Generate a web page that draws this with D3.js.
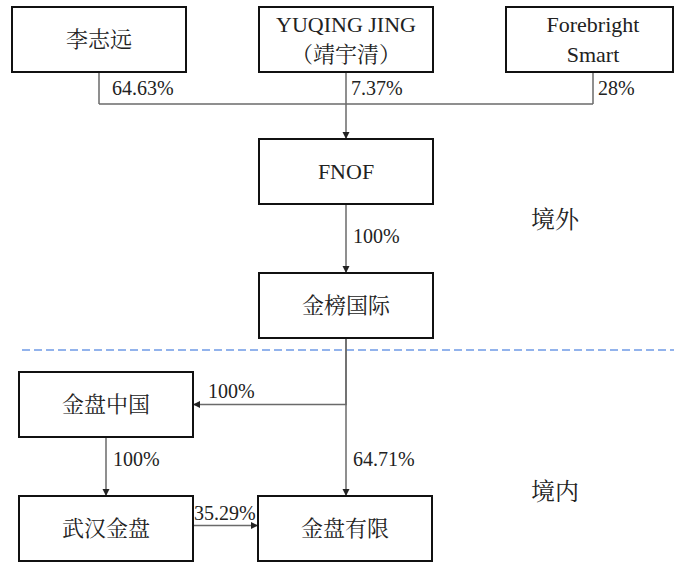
<!DOCTYPE html>
<html>
<head>
<meta charset="utf-8">
<script src="https://cdn.jsdelivr.net/npm/d3@7"></script>
<style>
  body { margin: 0; background: #fff; }
  svg { display: block; }
  svg text { font-family: "Liberation Serif", "Noto Serif CJK SC", "Noto Sans CJK SC", serif; }
</style>
</head>
<body>
<div id="chart"></div>
<script>
// entities in the ownership chart
const entities = ["李志远", "YUQING JING\n（靖宇清）", "Forebright\nSmart", "FNOF", "金榜国际", "金盘中国", "武汉金盘", "金盘有限"]

// shareholders of FNOF and their stakes
const topHolders = ["李志远", "YUQING JING\n（靖宇清）", "Forebright\nSmart"]
const topStakes = ["64.63%", "7.37%", "28%"]

// other holdings: from -> to
const linkFrom = ["FNOF", "金榜国际", "金榜国际", "金盘中国", "武汉金盘"]
const linkTo = ["金榜国际", "金盘中国", "金盘有限", "武汉金盘", "金盘有限"]
const linkStakes = ["100%", "100%", "64.71%", "100%", "35.29%"]

const regions = ["境外", "境内"]

const WIDTH = 674, HEIGHT = 565
const BOX_W = 174, BOX_H = 65

// grid layout for the boxes (left edge / top edge)
const xLeft = d3.scaleOrdinal()
    .domain(entities)
    .range([12, 259, 506, 259, 259, 19, 19, 258])
const yTop = d3.scaleOrdinal()
    .domain(entities)
    .range([7, 7, 7, 139, 273, 372, 496, 496])

const cx = d => xLeft(d) + BOX_W / 2
const cy = d => yTop(d) + BOX_H / 2

const svg = d3.select("#chart")
    .append("svg")
    .attr("width", WIDTH)
    .attr("height", HEIGHT)

svg.append("defs").append("marker")
    .attr("id", "arrow")
    .attr("viewBox", "0 0 10 10")
    .attr("refX", 10)
    .attr("refY", 5)
    .attr("markerWidth", 7)
    .attr("markerHeight", 8)
    .attr("markerUnits", "userSpaceOnUse")
    .attr("orient", "auto")
    .append("path")
    .attr("d", "M0,0 L10,5 L0,10 Z")
    .attr("fill", "#222")

const LINE = "#6a6a6a"

// dashed border between offshore and onshore
svg.append("line")
    .attr("x1", 22).attr("x2", WIDTH)
    .attr("y1", 350).attr("y2", 350)
    .attr("stroke", "#6f9be6")
    .attr("stroke-width", 1.5)
    .attr("stroke-dasharray", "8,4")

// top connectors: each holder down to a common bar, then into FNOF
const barY = 104
topHolders.forEach((h, i) => {
    svg.append("line")
        .attr("x1", cx(h)).attr("x2", cx(h))
        .attr("y1", yTop(h) + BOX_H).attr("y2", barY)
        .attr("stroke", LINE).attr("stroke-width", 1.5)
    svg.append("text")
        .attr("x", cx(h) + (i == 0 ? 13 : 5))
        .attr("y", barY - 9)
        .attr("font-size", 20)
        .attr("fill", "#222")
        .text(topStakes[i])
})
svg.append("line")
    .attr("x1", cx(topHolders[0])).attr("x2", cx(topHolders[2]))
    .attr("y1", barY).attr("y2", barY)
    .attr("stroke", LINE).attr("stroke-width", 1.5)
svg.append("line")
    .attr("x1", cx("FNOF")).attr("x2", cx("FNOF"))
    .attr("y1", barY).attr("y2", yTop("FNOF"))
    .attr("stroke", LINE).attr("stroke-width", 1.5)
    .attr("marker-end", "url(#arrow)")

// other links
const links = linkFrom.map((f, i) => ({ from: f, to: linkTo[i], stake: linkStakes[i] }))

links.forEach(l => {
    let pts, lx, ly
    if (Math.abs(xLeft(l.from) - xLeft(l.to)) < 5) {
        // straight down
        pts = [[cx(l.from), yTop(l.from) + BOX_H], [cx(l.from), yTop(l.to)]]
        lx = cx(l.from) + 7
        ly = yTop(l.to) - 30
    } else if (yTop(l.from) == yTop(l.to)) {
        // straight across
        pts = [[xLeft(l.from) + BOX_W, cy(l.to) - 3], [xLeft(l.to), cy(l.to) - 3]]
        lx = xLeft(l.from) + BOX_W + 1
        ly = cy(l.to) - 9
    } else {
        // down then left into side of box
        pts = [[cx(l.from), yTop(l.from) + BOX_H], [cx(l.from), cy(l.to)], [xLeft(l.to) + BOX_W, cy(l.to)]]
        lx = xLeft(l.to) + BOX_W + 15
        ly = cy(l.to) - 7
    }
    svg.append("path")
        .attr("d", d3.line()(pts))
        .attr("fill", "none")
        .attr("stroke", LINE).attr("stroke-width", 1.5)
        .attr("marker-end", "url(#arrow)")
    svg.append("text")
        .attr("x", lx)
        .attr("y", ly)
        .attr("font-size", 20)
        .attr("fill", "#222")
        .text(l.stake)
})

// boxes
const boxes = svg.selectAll("g.box")
    .data(entities)
    .enter().append("g")
    .attr("class", "box")

boxes.append("rect")
    .attr("x", d => xLeft(d))
    .attr("y", d => yTop(d))
    .attr("width", d => Math.min(BOX_W, WIDTH - 1 - xLeft(d)))
    .attr("height", BOX_H)
    .attr("fill", "#fff")
    .attr("stroke", "#111")
    .attr("stroke-width", 2)

boxes.each(function (d) {
    const lines = d.split("\n")
    const t = d3.select(this).append("text")
        .attr("text-anchor", "middle")
        .attr("font-size", 22)
        .attr("fill", "#222")
    lines.forEach((s, i) => {
        t.append("tspan")
            .attr("x", cx(d))
            .attr("y", cy(d) + (i - (lines.length - 1) / 2) * 30)
            .attr("dominant-baseline", "central")
            .text(s)
    })
})

// region labels
svg.selectAll("text.region")
    .data(regions)
    .enter().append("text")
    .attr("class", "region")
    .attr("x", 555)
    .attr("y", (d, i) => i == 0 ? 220 : 492)
    .attr("text-anchor", "middle")
    .attr("dominant-baseline", "central")
    .attr("font-size", 24)
    .attr("fill", "#222")
    .text(d => d)
</script>
</body>
</html>
